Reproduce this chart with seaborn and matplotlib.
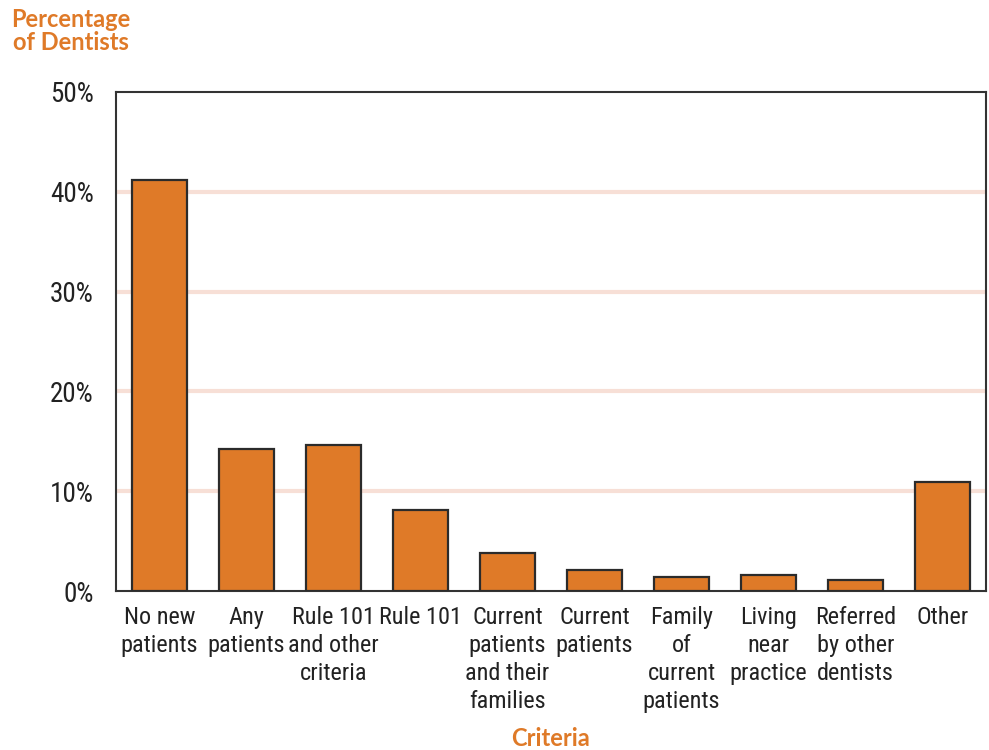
import matplotlib
matplotlib.use("Agg")
import matplotlib.pyplot as plt
import seaborn as sns
import pandas as pd

categories = [
    "No new\npatients",
    "Any\npatients",
    "Rule 101\nand other\ncriteria",
    "Rule 101",
    "Current\npatients\nand their\nfamilies",
    "Current\npatients",
    "Family\nof\ncurrent\npatients",
    "Living\nnear\npractice",
    "Referred\nby other\ndentists",
    "Other",
]
percentages = [41.2, 14.2, 14.6, 8.1, 3.8, 2.1, 1.4, 1.6, 1.1, 10.9]
y_ticks = [0, 10, 20, 30, 40, 50]
y_tick_labels = ["0%", "10%", "20%", "30%", "40%", "50%"]

ORANGE = "#df7a28"
EDGE = "#2b2b2b"
GRID = "#f7dfd6"
TEXT = "#222222"

NARROW = ["Roboto Condensed", "Archivo Narrow", "Asap Condensed", "DejaVu Sans"]
HEADING = ["Lato", "DejaVu Sans"]

sns.set_theme(style="white")
plt.rcParams["font.family"] = NARROW

df = pd.DataFrame({"criteria": categories, "pct": percentages})

fig = plt.figure(figsize=(9.89, 7.5), dpi=100)
ax = fig.add_axes([116 / 989, 1 - 591 / 750, 870 / 989, 499 / 750])

sns.barplot(data=df, x="criteria", y="pct", color=ORANGE, width=0.63,
            edgecolor=EDGE, linewidth=1.6, saturation=1, ax=ax, zorder=3)

ax.set_xlim(-0.5, len(categories) - 0.5)
ax.set_ylim(0, 50)
ax.set_yticks(y_ticks)
ax.set_yticklabels(y_tick_labels, fontsize=19.5, color=TEXT)
ax.tick_params(axis="y", length=0, pad=16)
ax.tick_params(axis="x", length=0, pad=11)
for lbl in ax.get_xticklabels():
    lbl.set_fontsize(17.5)
    lbl.set_color(TEXT)
    lbl.set_linespacing(1.27)
    lbl.set_verticalalignment("top")

for y in y_ticks[1:-1]:
    ax.axhline(y, color=GRID, linewidth=3, zorder=1)

for side in ["left", "right", "top", "bottom"]:
    ax.spines[side].set_visible(True)
    ax.spines[side].set_color("#333333")
    ax.spines[side].set_linewidth(1.5)

ax.set_xlabel("")
ax.set_ylabel("")

fig.text(550 / 989, 1 - 739 / 750, "Criteria", ha="center", va="center",
         fontsize=17, fontweight="bold", color=ORANGE, family=HEADING)
fig.text(71 / 989, 1 - 31 / 750, "Percentage\nof Dentists", ha="center",
         va="center", fontsize=17, fontweight="bold", color=ORANGE,
         linespacing=0.95, family=HEADING)

fig.savefig("out.png", dpi=100)
